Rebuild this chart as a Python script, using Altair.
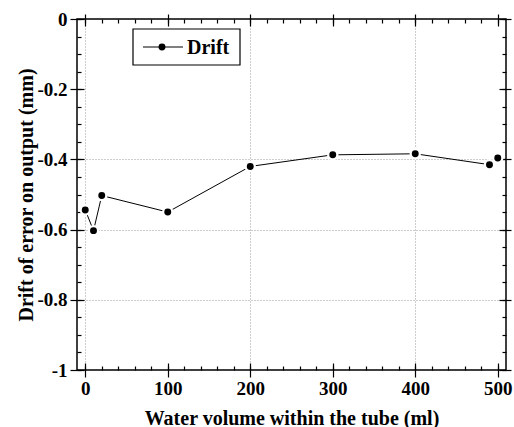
import altair as alt
import pandas as pd

# ---- data ----
volume = [0, 10, 20, 100, 200, 300, 400, 490, 500]
drift = [-0.544, -0.603, -0.503, -0.55, -0.42, -0.387, -0.384, -0.415, -0.396]
series_name = "Drift"

x_major = [0, 100, 200, 300, 400, 500]
x_minor = [0, 20, 40, 60, 80, 100, 120, 140, 160, 180, 200, 220, 240, 260, 280,
           300, 320, 340, 360, 380, 400, 420, 440, 460, 480, 500]
x_grid = [0, 200, 400]
y_major = [0, -0.2, -0.4, -0.6, -0.8, -1]
y_minor = [0, -0.05, -0.1, -0.15, -0.2, -0.25, -0.3, -0.35, -0.4, -0.45, -0.5,
           -0.55, -0.6, -0.65, -0.7, -0.75, -0.8, -0.85, -0.9, -0.95, -1]
y_grid = [-0.4, -0.6, -0.8]

x_title = "Water volume within the tube (ml)"
y_title = "Drift of error on output (mm)"

df = pd.DataFrame({"volume": volume, "drift": drift})

FONT = "Liberation Serif"
W, H = 429, 351

xs = alt.Scale(domain=[-10, 510], nice=False, zero=False)
ys = alt.Scale(domain=[-1, 0], nice=False, zero=False)

label_expr = "replace(format(datum.value, '.1~f'), '\u2212', '-')"


def tick_axis(orient, values, size, offset):
    return alt.Axis(orient=orient, values=values, tickSize=size, offset=offset,
                    labels=False, domain=False, grid=False, title=None,
                    tickColor="black", tickWidth=1.2)


def grid_axis(orient, values):
    return alt.Axis(orient=orient, values=values, ticks=False, labels=False,
                    domain=False, grid=True, gridColor="#9a9a9a",
                    gridDash=[1, 2], gridWidth=1, title=None)


base = alt.Chart(df)

main_x = alt.Axis(orient="bottom", values=x_major, tickSize=7, tickColor="black",
                  tickWidth=1.2, domain=False, labelFont=FONT, labelFontSize=19,
                  labelFontWeight="bold", labelColor="black", labelPadding=2,
                  grid=False,
                  title=x_title, titleFont=FONT, titleFontSize=20,
                  titleFontWeight="bold", titleColor="black", titlePadding=10)
main_y = alt.Axis(orient="left", values=y_major, tickSize=7, tickColor="black",
                  tickWidth=1.2, domain=False, labelFont=FONT, labelFontSize=19,
                  labelFontWeight="bold", labelColor="black", labelPadding=3,
                  labelExpr=label_expr, grid=False,
                  title=y_title, titleFont=FONT, titleFontSize=20,
                  titleFontWeight="bold", titleColor="black", titlePadding=0)

line = base.mark_line(color="black", strokeWidth=1).encode(
    x=alt.X("volume:Q", scale=xs, axis=main_x),
    y=alt.Y("drift:Q", scale=ys, axis=main_y),
)
halo = base.mark_circle(color="white", size=130, opacity=1).encode(
    x=alt.X("volume:Q", scale=xs, axis=None),
    y=alt.Y("drift:Q", scale=ys, axis=None),
)
pts = base.mark_circle(color="black", size=48, opacity=1).encode(
    x=alt.X("volume:Q", scale=xs, axis=None),
    y=alt.Y("drift:Q", scale=ys, axis=None),
)


def tick_layer(xax, yax):
    return base.mark_point(opacity=0).encode(
        x=alt.X("volume:Q", scale=xs, axis=xax),
        y=alt.Y("drift:Q", scale=ys, axis=yax),
    )


g0 = tick_layer(grid_axis("bottom", x_grid), grid_axis("left", y_grid))
t1 = tick_layer(tick_axis("bottom", x_major, 7, -7), tick_axis("left", y_major, 7, -7))
t2 = tick_layer(tick_axis("bottom", x_minor, 4, -4), tick_axis("left", y_minor, 4, -4))
t3 = tick_layer(tick_axis("top", x_major, 7, -7), tick_axis("right", y_major, 7, -7))
t4 = tick_layer(tick_axis("top", x_minor, 4, -4), tick_axis("right", y_minor, 4, -4))
t5 = tick_layer(tick_axis("top", x_major, 5, 0), tick_axis("right", y_major, 5, 0))

one = pd.DataFrame({"k": [0]})
leg_box = alt.Chart(one).mark_rect(fill="white", stroke="black", strokeWidth=1.2).encode(
    x=alt.value(56), x2=alt.value(163), y=alt.value(10), y2=alt.value(46))
leg_line = alt.Chart(one).mark_rule(color="black", strokeWidth=1).encode(
    x=alt.value(66), x2=alt.value(106), y=alt.value(28))
leg_pt = alt.Chart(one).mark_circle(color="black", size=48, opacity=1).encode(
    x=alt.value(85), y=alt.value(28))
leg_txt = alt.Chart(one).mark_text(align="left", baseline="middle", font=FONT,
                                   fontSize=20, fontWeight="bold", color="black").encode(
    x=alt.value(110), y=alt.value(29), text=alt.value(series_name))

chart = alt.layer(g0, line, halo, pts, t1, t2, t3, t4, t5,
                  leg_box, leg_line, leg_pt, leg_txt).resolve_axis(
    x="independent", y="independent"
).properties(
    width=W, height=H,
    autosize=alt.AutoSizeParams(type="none"),
    padding={"left": 77, "top": 19, "right": 8, "bottom": 57},
    background="white",
).configure_view(stroke="black", strokeWidth=1.5)

chart.save("out.html", embed_options={"renderer": "svg", "actions": False})
